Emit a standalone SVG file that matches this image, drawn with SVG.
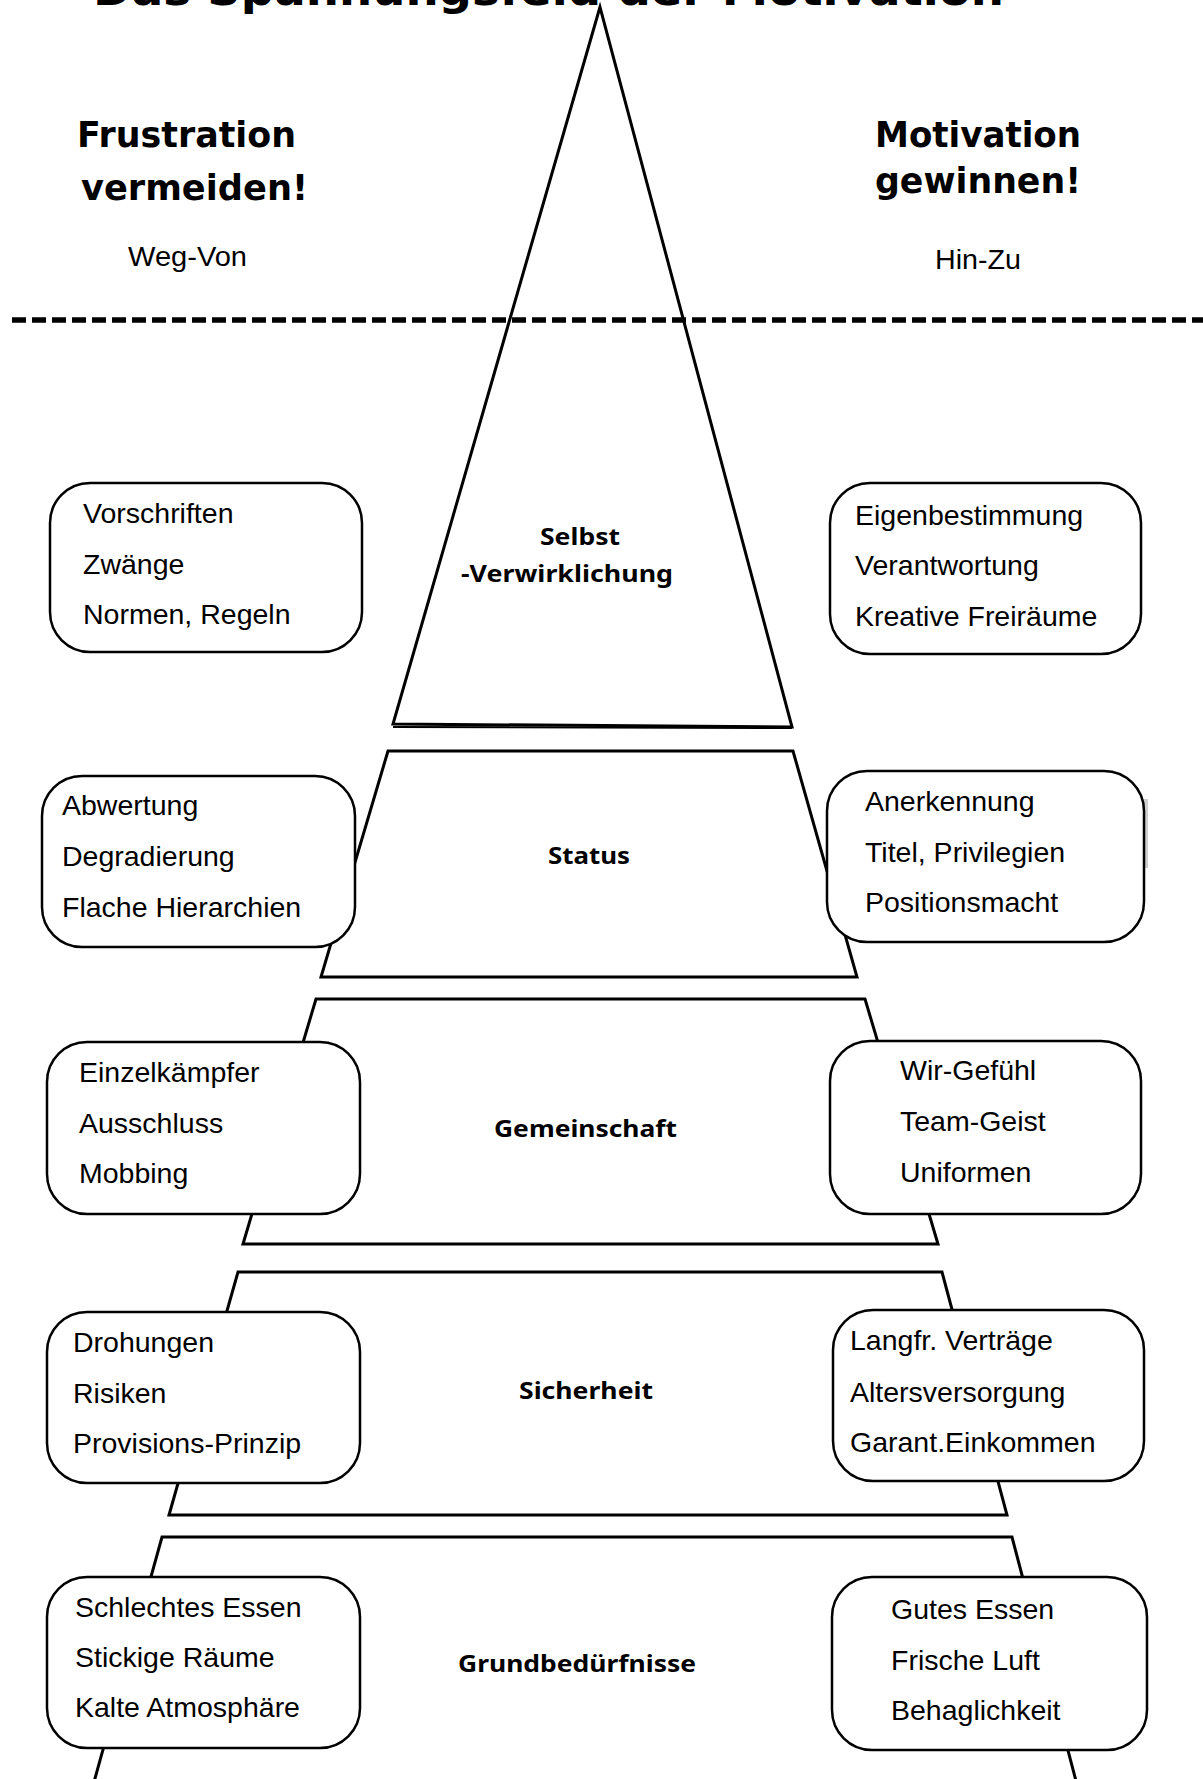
<svg xmlns="http://www.w3.org/2000/svg" width="1203" height="1779" viewBox="0 0 1203 1779">
<style>
.bg{fill:#fff}
.lvl{fill:#fff;stroke:#000;stroke-width:3;stroke-linejoin:miter}
.box{fill:#fff;stroke:#000;stroke-width:2.5}
.hd{font-family:"DejaVu Sans","Liberation Sans",sans-serif;font-weight:bold;fill:#000}
.lbl{font-family:"Noto Sans","DejaVu Sans",sans-serif;font-weight:bold;font-size:24px;fill:#000}
.txt{font-family:"Liberation Sans",Arial,sans-serif;font-size:28.5px;fill:#000}
.dash{stroke:#000;stroke-width:5.5;stroke-dasharray:14 6;fill:none}
</style>
<rect class="bg" x="0" y="0" width="1203" height="1779"/>
<text class="hd" x="93" y="5" font-size="44" textLength="911" lengthAdjust="spacingAndGlyphs">Das Spannungsfeld der Motivation</text>
<g id="header-left">
<text class="hd" x="77" y="147" font-size="36" textLength="219" lengthAdjust="spacingAndGlyphs">Frustration</text>
<text class="hd" x="81" y="200" font-size="36" textLength="227" lengthAdjust="spacingAndGlyphs">vermeiden!</text>
<text class="txt" x="128" y="266" textLength="119" lengthAdjust="spacingAndGlyphs">Weg-Von</text>
</g>
<g id="header-right">
<text class="hd" x="875" y="147" font-size="36" textLength="206" lengthAdjust="spacingAndGlyphs">Motivation</text>
<text class="hd" x="875" y="193" font-size="36" textLength="206" lengthAdjust="spacingAndGlyphs">gewinnen!</text>
<text class="txt" x="935" y="269" textLength="86" lengthAdjust="spacingAndGlyphs">Hin-Zu</text>
</g>
<g id="level-selbstverwirklichung">
<polygon class="lvl" points="600,7 393,724 792,727"/>
<line x1="393" y1="727" x2="792" y2="728" stroke="#000" stroke-width="2"/>
<text class="lbl" x="540" y="545" textLength="80" lengthAdjust="spacingAndGlyphs">Selbst</text>
<text class="lbl" x="461" y="582" textLength="212" lengthAdjust="spacingAndGlyphs">-Verwirklichung</text>
</g>
<g id="divider">
<line class="dash" x1="12" y1="320" x2="1203" y2="320"/>
</g>
<g id="level-status">
<polygon class="lvl" points="388,751 793,751 857,977 321,977"/>
<text class="lbl" x="548" y="864" textLength="82" lengthAdjust="spacingAndGlyphs">Status</text>
</g>
<g id="level-gemeinschaft">
<polygon class="lvl" points="316,999 865,999 938,1244 243,1244"/>
<text class="lbl" x="494" y="1137" textLength="183" lengthAdjust="spacingAndGlyphs">Gemeinschaft</text>
</g>
<g id="level-sicherheit">
<polygon class="lvl" points="238,1272 942,1272 1007,1515 169,1515"/>
<text class="lbl" x="519" y="1399" textLength="134" lengthAdjust="spacingAndGlyphs">Sicherheit</text>
</g>
<g id="level-grundbeduerfnisse">
<polygon class="lvl" points="162,1537 1012,1537 1081,1800 89,1800"/>
<text class="lbl" x="458" y="1672" textLength="238" lengthAdjust="spacingAndGlyphs">Grundbedürfnisse</text>
</g>
<g id="box-left-1">
<rect class="box" x="50" y="483" width="312" height="169" rx="40" ry="40"/>
<text class="txt" x="83" y="523">Vorschriften</text>
<text class="txt" x="83" y="574">Zwänge</text>
<text class="txt" x="83" y="624">Normen, Regeln</text>
</g>
<g id="box-right-1">
<rect class="box" x="830" y="483" width="311" height="171" rx="40" ry="40"/>
<text class="txt" x="855" y="525">Eigenbestimmung</text>
<text class="txt" x="855" y="575">Verantwortung</text>
<text class="txt" x="855" y="626">Kreative Freiräume</text>
</g>
<g id="box-left-2">
<rect class="box" x="42" y="776" width="313" height="171" rx="40" ry="40"/>
<text class="txt" x="62" y="815">Abwertung</text>
<text class="txt" x="62" y="866">Degradierung</text>
<text class="txt" x="62" y="917">Flache Hierarchien</text>
</g>
<g id="box-right-2">
<rect x="1140" y="799" width="8" height="69" fill="#cfcfcf"/>
<rect class="box" x="827" y="771" width="317" height="171" rx="40" ry="40"/>
<text class="txt" x="865" y="811">Anerkennung</text>
<text class="txt" x="865" y="862">Titel, Privilegien</text>
<text class="txt" x="865" y="912">Positionsmacht</text>
</g>
<g id="box-left-3">
<rect class="box" x="47" y="1042" width="313" height="172" rx="40" ry="40"/>
<text class="txt" x="79" y="1082">Einzelkämpfer</text>
<text class="txt" x="79" y="1133">Ausschluss</text>
<text class="txt" x="79" y="1183">Mobbing</text>
</g>
<g id="box-right-3">
<rect class="box" x="830" y="1041" width="311" height="173" rx="40" ry="40"/>
<text class="txt" x="900" y="1080">Wir-Gefühl</text>
<text class="txt" x="900" y="1131">Team-Geist</text>
<text class="txt" x="900" y="1182">Uniformen</text>
</g>
<g id="box-left-4">
<rect class="box" x="47" y="1312" width="313" height="171" rx="40" ry="40"/>
<text class="txt" x="73" y="1352">Drohungen</text>
<text class="txt" x="73" y="1403">Risiken</text>
<text class="txt" x="73" y="1453">Provisions-Prinzip</text>
</g>
<g id="box-right-4">
<rect class="box" x="833" y="1310" width="311" height="171" rx="40" ry="40"/>
<text class="txt" x="850" y="1350">Langfr. Verträge</text>
<text class="txt" x="850" y="1402">Altersversorgung</text>
<text class="txt" x="850" y="1452">Garant.Einkommen</text>
</g>
<g id="box-left-5">
<rect class="box" x="47" y="1577" width="313" height="171" rx="40" ry="40"/>
<text class="txt" x="75" y="1617">Schlechtes Essen</text>
<text class="txt" x="75" y="1667">Stickige Räume</text>
<text class="txt" x="75" y="1717">Kalte Atmosphäre</text>
</g>
<g id="box-right-5">
<rect class="box" x="832" y="1577" width="315" height="173" rx="40" ry="40"/>
<text class="txt" x="891" y="1619">Gutes Essen</text>
<text class="txt" x="891" y="1670">Frische Luft</text>
<text class="txt" x="891" y="1720">Behaglichkeit</text>
</g>
</svg>
